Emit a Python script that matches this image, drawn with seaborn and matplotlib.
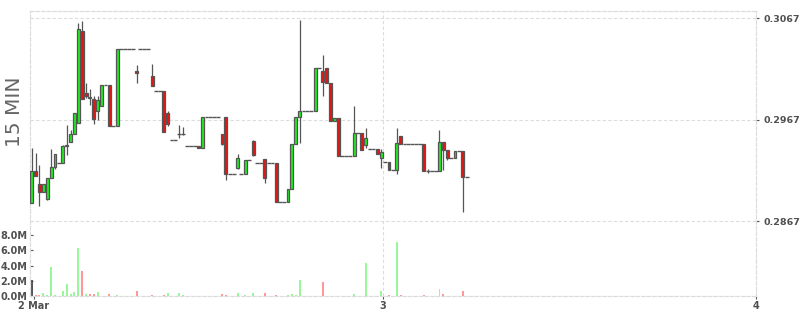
import numpy as np
import pandas as pd
import matplotlib
matplotlib.use("Agg")
import matplotlib.pyplot as plt
import seaborn as sns

# ---------------- data ----------------
start_time = "2024-03-02 01:15"
interval = "15min"

opens = [
    0.28851, 0.29166, 0.29032, 0.28959, 0.28890, 0.29091, 0.29200, 0.29244, 0.29247, 0.29410,
    0.29447, 0.29525, 0.29640, 0.30545, 0.29930, 0.29891, 0.29871, 0.29752, 0.29802, 0.30009,
    0.30009, 0.29604, 0.29604, 0.30364, 0.30364, 0.30364, 0.30364, 0.30150, 0.30364, 0.30364,
    0.30364, 0.30101, 0.29953, 0.29953, 0.29953, 0.29733, 0.29466, 0.29466, 0.29531, 0.29531,
    0.29407, 0.29407, 0.29407, 0.29407, 0.29387, 0.29693, 0.29693, 0.29693, 0.29693, 0.29525,
    0.29693, 0.29131, 0.29131, 0.29196, 0.29131, 0.29131, 0.29269, 0.29459, 0.29239, 0.29239,
    0.29279, 0.29239, 0.29239, 0.29239, 0.28860, 0.28860, 0.28860, 0.28983, 0.29427, 0.29693,
    0.29752, 0.29752, 0.29752, 0.29752, 0.30177, 0.30150, 0.30177, 0.30029, 0.29657, 0.29683,
    0.29311, 0.29311, 0.29311, 0.29311, 0.29541, 0.29541, 0.29417, 0.29377, 0.29377, 0.29377,
    0.29289, 0.29249, 0.29249, 0.29170, 0.29170, 0.29506, 0.29430, 0.29430, 0.29430, 0.29430,
    0.29430, 0.29430, 0.29160, 0.29160, 0.29160, 0.29160, 0.29447, 0.29368, 0.29289, 0.29289,
    0.29364, 0.29364, 0.29101,
]
highs = [
    0.29393, 0.29338, 0.29223, 0.29032, 0.29091, 0.29380, 0.29328, 0.29244, 0.29423, 0.29617,
    0.29568, 0.29733, 0.30627, 0.30643, 0.30035, 0.29969, 0.29903, 0.29903, 0.30009, 0.30009,
    0.30009, 0.29604, 0.30364, 0.30364, 0.30364, 0.30364, 0.30364, 0.30209, 0.30364, 0.30364,
    0.30364, 0.30219, 0.29953, 0.29953, 0.29953, 0.29755, 0.29466, 0.29466, 0.29617, 0.29600,
    0.29407, 0.29407, 0.29407, 0.29407, 0.29693, 0.29693, 0.29693, 0.29693, 0.29693, 0.29525,
    0.29693, 0.29131, 0.29131, 0.29331, 0.29131, 0.29269, 0.29269, 0.29469, 0.29239, 0.29239,
    0.29279, 0.29239, 0.29239, 0.29239, 0.28860, 0.28860, 0.28983, 0.29427, 0.29693, 0.30653,
    0.29752, 0.29752, 0.29752, 0.30177, 0.30177, 0.30308, 0.30177, 0.30029, 0.29683, 0.29683,
    0.29311, 0.29311, 0.29311, 0.29805, 0.29541, 0.29541, 0.29591, 0.29377, 0.29377, 0.29377,
    0.29377, 0.29249, 0.29249, 0.29170, 0.29591, 0.29506, 0.29430, 0.29430, 0.29430, 0.29430,
    0.29430, 0.29430, 0.29186, 0.29160, 0.29160, 0.29568, 0.29447, 0.29368, 0.29289, 0.29364,
    0.29364, 0.29364, 0.29101,
]
lows = [
    0.28851, 0.29114, 0.28818, 0.28959, 0.28877, 0.29091, 0.29180, 0.29244, 0.29247, 0.29321,
    0.29447, 0.29525, 0.29640, 0.29871, 0.29881, 0.29815, 0.29630, 0.29667, 0.29802, 0.30009,
    0.29604, 0.29604, 0.29604, 0.30364, 0.30364, 0.30364, 0.30364, 0.30032, 0.30364, 0.30364,
    0.30364, 0.30005, 0.29953, 0.29953, 0.29551, 0.29610, 0.29466, 0.29466, 0.29492, 0.29519,
    0.29407, 0.29407, 0.29407, 0.29387, 0.29387, 0.29693, 0.29693, 0.29693, 0.29693, 0.29423,
    0.29075, 0.29131, 0.29131, 0.29183, 0.29131, 0.29131, 0.29269, 0.29311, 0.29239, 0.29239,
    0.29048, 0.29239, 0.29239, 0.28860, 0.28860, 0.28860, 0.28860, 0.28983, 0.29427, 0.29443,
    0.29752, 0.29752, 0.29752, 0.29752, 0.30177, 0.29906, 0.30029, 0.29657, 0.29657, 0.29311,
    0.29311, 0.29311, 0.29311, 0.29311, 0.29541, 0.29371, 0.29393, 0.29377, 0.29377, 0.29328,
    0.29196, 0.29249, 0.29170, 0.29170, 0.29131, 0.29430, 0.29430, 0.29430, 0.29430, 0.29430,
    0.29430, 0.29160, 0.29144, 0.29160, 0.29160, 0.29160, 0.29173, 0.29275, 0.29289, 0.29289,
    0.29364, 0.28762, 0.29101,
]
closes = [
    0.29166, 0.29114, 0.28959, 0.29032, 0.29091, 0.29200, 0.29328, 0.29244, 0.29407, 0.29420,
    0.29525, 0.29733, 0.30561, 0.29871, 0.29903, 0.29888, 0.29673, 0.29864, 0.30009, 0.30009,
    0.29604, 0.29604, 0.30364, 0.30364, 0.30364, 0.30364, 0.30364, 0.30130, 0.30364, 0.30364,
    0.30364, 0.30005, 0.29953, 0.29953, 0.29551, 0.29627, 0.29466, 0.29466, 0.29531, 0.29531,
    0.29407, 0.29407, 0.29407, 0.29387, 0.29693, 0.29693, 0.29693, 0.29693, 0.29693, 0.29433,
    0.29131, 0.29131, 0.29131, 0.29289, 0.29131, 0.29269, 0.29269, 0.29318, 0.29239, 0.29239,
    0.29091, 0.29239, 0.29239, 0.28860, 0.28860, 0.28860, 0.28983, 0.29427, 0.29693, 0.29752,
    0.29752, 0.29752, 0.29752, 0.30177, 0.30177, 0.30044, 0.30029, 0.29657, 0.29683, 0.29311,
    0.29311, 0.29311, 0.29311, 0.29541, 0.29541, 0.29371, 0.29486, 0.29377, 0.29377, 0.29328,
    0.29348, 0.29249, 0.29170, 0.29170, 0.29437, 0.29430, 0.29430, 0.29430, 0.29430, 0.29430,
    0.29430, 0.29160, 0.29160, 0.29160, 0.29160, 0.29447, 0.29368, 0.29289, 0.29289, 0.29364,
    0.29364, 0.29101, 0.29101,
]
volume_m = [
    2.1, 0.15, 0.15, 0.35, 0.1, 3.85, 0.1, 0.05, 0.65, 1.6,
    0.25, 0.5, 6.35, 3.3, 0.3, 0.2, 0.3, 0.5, 0, 0,
    0.2, 0, 0.1, 0, 0, 0, 0, 0.6, 0, 0,
    0, 0.15, 0, 0, 0.1, 0.35, 0, 0, 0.35, 0.15,
    0, 0, 0, 0, 0, 0, 0, 0, 0, 0.2,
    0.1, 0, 0, 0.35, 0, 0.1, 0, 0.35, 0, 0,
    0.35, 0, 0, 0.1, 0, 0, 0.1, 0.25, 0.1, 2.1,
    0, 0, 0, 0, 0, 1.85, 0, 0, 0, 0,
    0, 0, 0, 0.25, 0, 0.05, 4.35, 0, 0, 0.05,
    0.6, 0, 0.1, 0, 7.1, 0.1, 0, 0, 0, 0,
    0, 0.1, 0.05, 0, 0, 0.95, 0.3, 0, 0, 0,
    0, 0.6, 0,
]
price_ticks = [0.2867, 0.2967, 0.3067]
volume_ticks = [0, 2, 4, 6, 8]
x_tick_labels = ["2 Mar", "3", "4"]
panel_label = "15 MIN"

# ---------------- build frame ----------------
times = pd.date_range(start_time, periods=len(opens), freq=interval)
day0 = times[0].normalize()
step_h = 0.25
t = ((times - day0) / pd.Timedelta(hours=1)).to_numpy() + step_h / 2
df = pd.DataFrame({"t": t, "open": opens, "high": highs, "low": lows,
                   "close": closes, "vol": volume_m})
prev = df["close"].shift(1)
df["dir"] = np.where(prev.isna(), "none",
                     np.where(df["close"] >= prev, "up", "down"))

# ---------------- style ----------------
sns.set_theme(style="white")
plt.rcParams["font.family"] = ["DejaVu Sans"]
GRID = "#dcdcdc"
TXT = "#505050"
EDGE = "#555555"
UP = "#22ee22"
DOWN = "#ee1111"

fig = plt.figure(figsize=(8.0, 3.15), dpi=100)
axv = fig.add_axes([30.3 / 800, 19 / 315, (756 - 30.3) / 800, (296 - 10.7) / 315])
axp = axv.twinx()

# volume bars (seaborn)
sns.barplot(data=df, x="t", y="vol", hue="dir", native_scale=True,
            palette={"up": "#99f799", "down": "#ff9797", "none": "#555555"},
            width=0.5, dodge=False, legend=False, errorbar=None,
            saturation=1, linewidth=0, ax=axv)

# candles
flat = (df["open"] == df["close"])
wick = df["high"] > df["low"]
axp.vlines(df.loc[wick, "t"], df.loc[wick, "low"], df.loc[wick, "high"],
           color=EDGE, lw=0.9, zorder=2)
body = df[~flat]
colors = np.where(body["close"] > body["open"], UP, DOWN)
axp.bar(body["t"], body["close"] - body["open"], bottom=body["open"],
        width=0.19, color=colors, edgecolor=EDGE, linewidth=0.9, zorder=3)
fl = df[flat]
axp.hlines(fl["open"], fl["t"] - step_h / 2, fl["t"] + step_h / 2,
           color=EDGE, lw=1.0, zorder=3)

# ---------------- axes ----------------
xlim = (1.285, 48.0)
axv.set_xlim(*xlim)
axp.set_xlim(*xlim)
axp.set_ylim(0.27930, 0.30745)
axv.set_ylim(0, 37.5)

dash = (0, (3, 2))
axp.set_yticks(price_ticks)
axp.set_yticklabels([f"{v:.4f}" for v in price_ticks])
axp.yaxis.grid(True, color=GRID, linestyle=dash, lw=0.8)
axp.axvline(24, color=GRID, linestyle=dash, lw=0.8, zorder=0)
axp.tick_params(axis="y", direction="out", length=2.3, width=0.8, color=EDGE,
                pad=3, labelsize=6.8, labelcolor=TXT)
for lab in axp.get_yticklabels():
    lab.set_fontweight("bold")

axv.set_yticks(volume_ticks)
axv.set_yticklabels([f"{v:.1f}M" for v in volume_ticks])
axv.tick_params(axis="y", direction="in", length=2.3, width=0.8, color=EDGE,
                pad=2, labelsize=7, labelcolor=TXT, left=True)
axv.set_xticks([1.5, 24, 48])
axv.set_xticklabels(x_tick_labels)
axv.tick_params(axis="x", direction="out", length=2.3, width=0.8, color=EDGE,
                pad=1, labelsize=7, labelcolor=TXT, bottom=True)
for lab in axv.get_yticklabels() + axv.get_xticklabels():
    lab.set_fontweight("bold")
axv.set_xlabel("")
axv.set_ylabel("")
axp.set_ylabel("")
axv.grid(False)

for ax in (axv, axp):
    for s in ax.spines.values():
        s.set_color(GRID)
        s.set_linestyle(dash)
        s.set_linewidth(0.8)

fig.text(15 / 800, 1 - 112 / 315, panel_label, rotation=90, fontsize=14.5,
         color="#666666", ha="center", va="center")

fig.savefig("out.png", dpi=100)
